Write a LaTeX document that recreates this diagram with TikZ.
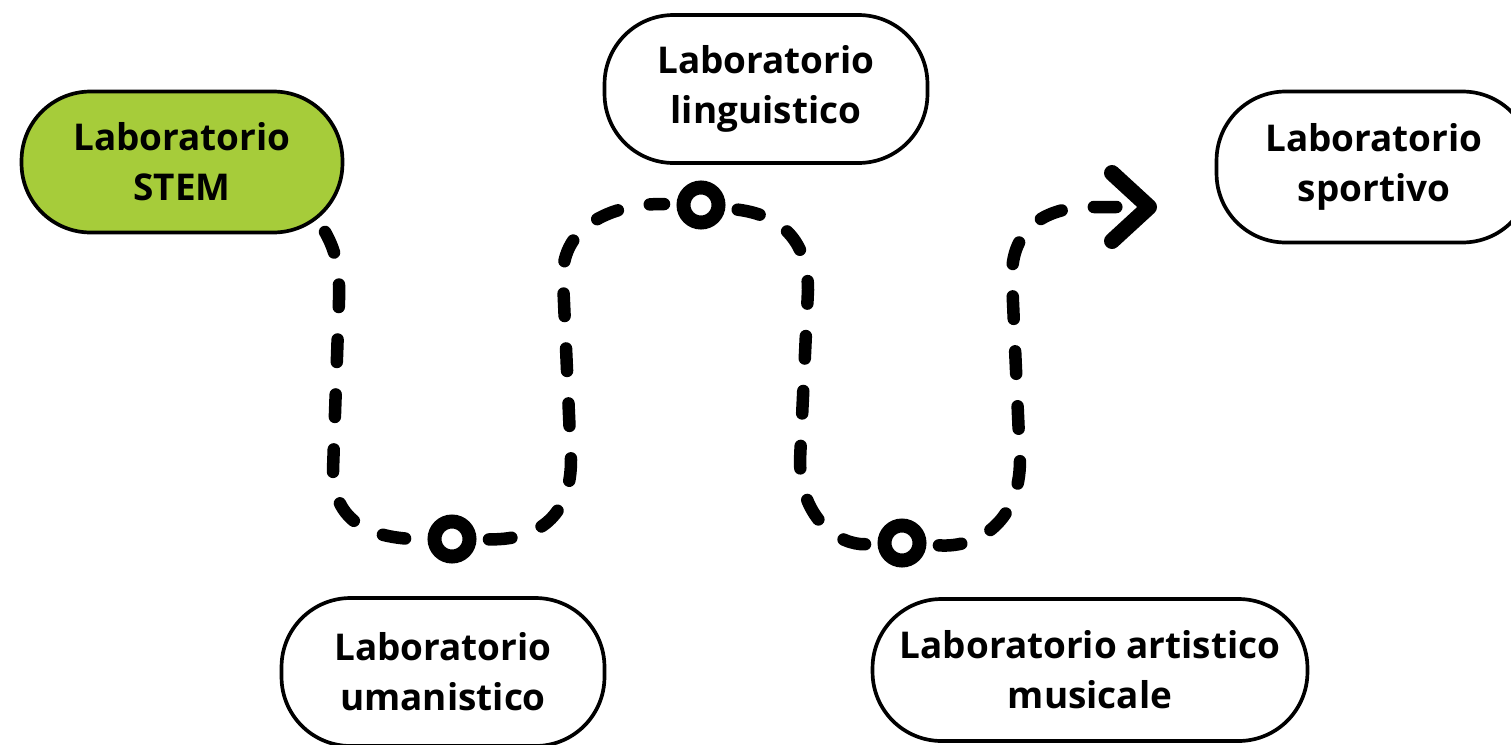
\documentclass[tikz,border=0pt]{standalone}
\usepackage{fontspec}
\setmainfont{Open Sans}
\usetikzlibrary{arrows.meta,backgrounds}
\definecolor{stemgreen}{RGB}{166,204,58}
\tikzset{
  lab/.style={draw, line width=2.1pt, rounded corners=1.38cm, align=center, inner sep=0pt,
    font=\bfseries\fontsize{21}{28.5}\selectfont},
  ring/.style={circle, draw, fill=white, line width=0.28cm, minimum size=0.7cm, inner sep=0pt},
  trail/.style={line width=0.25cm, line cap=round, dash pattern=on 0.45cm off 0.65cm},
}
\begin{document}
\begin{tikzpicture}[x=0.02cm, y=-0.02cm]
\useasboundingbox (0, 0) rectangle (1511, 744);
\node[lab, fill=stemgreen, minimum width=6.42cm, minimum height=2.82cm] (stem) at (182, 162) {Laboratorio\\STEM};
\node[lab, fill=white, minimum width=6.46cm, minimum height=2.96cm] (ling) at (766, 89) {Laboratorio\\linguistico};
\node[lab, fill=white, minimum width=6.3cm, minimum height=3.02cm] (sport) at (1374, 167) {Laboratorio\\sportivo};
\node[lab, fill=white, minimum width=6.46cm, minimum height=2.96cm] (uman) at (443, 672) {Laboratorio\\umanistico};
\node[lab, fill=white, minimum width=8.7cm, minimum height=2.84cm] (art) at (1090, 670) {Laboratorio artistico\\musicale};
\node[ring] (m1) at (452, 539) {};
\node[ring] (m2) at (701, 205) {};
\node[ring] (m3) at (902, 543) {};
\coordinate (tip) at (1157, 207);
\begin{scope}[on background layer]
\draw[trail] (stem.center) -- (298, 198) .. controls (335, 235) and (340, 262) .. (339, 300) -- (333, 470) .. controls (333, 522) and (370, 540) .. (m1);
\end{scope}
\draw[trail, shorten <=0.25cm, shorten >=0.25cm] (m1) .. controls (545, 540) and (571, 510) .. (571, 460) -- (563, 280) .. controls (560, 222) and (620, 203) .. (m2);
\draw[trail, shorten <=0.25cm, shorten >=0.25cm] (m2) .. controls (780, 215) and (808, 240) .. (808, 290) -- (800, 460) .. controls (800, 520) and (840, 545) .. (m3);
\draw[trail, shorten <=0.25cm, -{Straight Barb[length=0.74cm, width=1.36cm, line width=0.32cm, round]}] (m3) .. controls (980, 548) and (1020, 520) .. (1020, 460) -- (1012, 280) .. controls (1010, 225) and (1050, 207) .. (1090, 207) -- (tip);
\end{tikzpicture}
\end{document}
